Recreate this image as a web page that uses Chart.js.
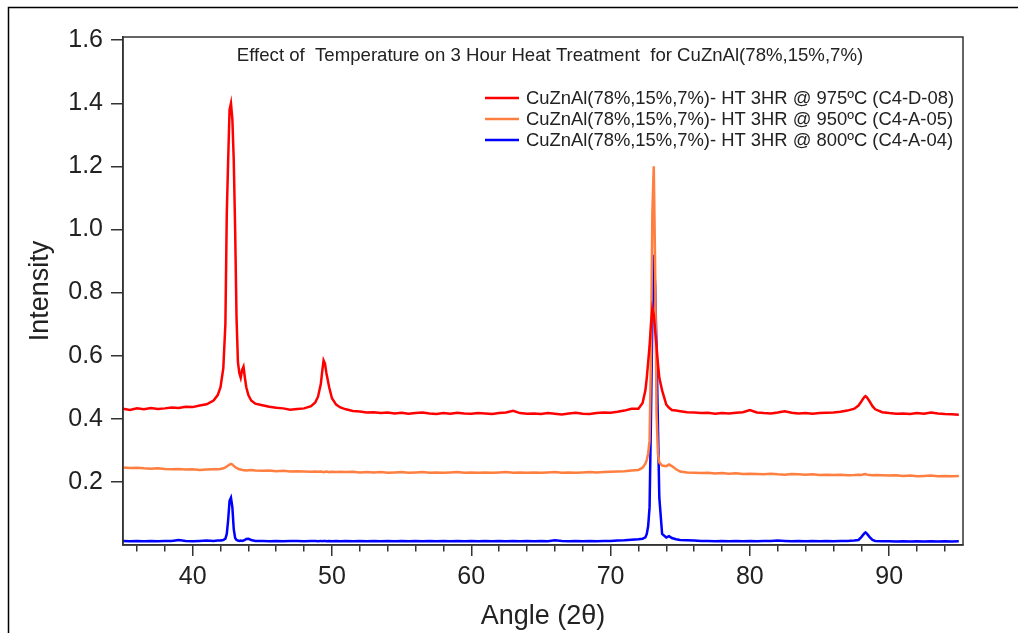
<!DOCTYPE html>
<html>
<head>
<meta charset="utf-8">
<title>Effect of Temperature on 3 Hour Heat Treatment</title>
<script src="https://cdn.jsdelivr.net/npm/chart.js@4/dist/chart.umd.min.js"></script>
<style>
  body { margin: 0; background: #fff; }
  #wrap { width: 1018px; height: 633px; }
</style>
</head>
<body>
<div id="wrap"><canvas id="xrd-chart" width="1018" height="633"></canvas></div>
<script>
// angle grid (2 theta), denser around the peaks
const angles = [
  35, 35.5, 36, 36.5, 37, 37.5, 38, 38.5, 39, 39.5, 40, 40.5, 41, 41.5,
  41.8, 42.0, 42.2, 42.35, 42.45, 42.55, 42.65, 42.75, 42.85, 42.95, 43.05, 43.15, 43.25, 43.35, 43.45, 43.55, 43.65, 43.75, 43.85, 44.0, 44.2, 44.5,
  45, 45.5, 46, 46.5, 47, 47.5, 48, 48.5,
  48.8, 49.0, 49.2, 49.3, 49.4, 49.5, 49.6, 49.8, 50.0, 50.3, 50.6,
  51, 51.5, 52, 52.5, 53, 53.5, 54, 54.5, 55, 55.5, 56, 56.5, 57, 57.5, 58, 58.5, 59, 59.5, 60, 60.5,
  61, 61.5, 62, 62.5, 63, 63.5, 64, 64.5, 65, 65.5, 66, 66.5, 67, 67.5, 68, 68.5, 69, 69.5, 70, 70.5, 71, 71.5,
  72.0, 72.3, 72.5, 72.6, 72.7, 72.8, 72.9, 73.0, 73.1, 73.2, 73.3, 73.4, 73.5, 73.7, 74.0, 74.2, 74.4, 74.7,
  75, 75.5, 76, 76.5, 77, 77.5, 78, 78.5, 79, 79.5, 80, 80.5, 81, 81.5, 82, 82.5, 83, 83.5, 84, 84.5, 85, 85.5, 86, 86.5, 87, 87.5,
  87.8, 88.0, 88.2, 88.3, 88.4, 88.6, 88.8, 89.0, 89.5,
  90, 90.5, 91, 91.5, 92, 92.5, 93, 93.5, 94, 94.5, 95
];

// HT 3HR @ 975C (C4-D-08)
const ht975 = [
  0.432, 0.428, 0.433, 0.430, 0.434, 0.431, 0.433, 0.436, 0.434, 0.438, 0.437, 0.442, 0.446, 0.458,
  0.475, 0.500, 0.560, 0.700, 1.050, 1.220, 1.380, 1.400, 1.350, 1.220, 1.000, 0.720, 0.580, 0.545, 0.530, 0.555, 0.565, 0.530, 0.500, 0.475, 0.458, 0.448,
  0.443, 0.438, 0.435, 0.433, 0.429, 0.431, 0.433, 0.440,
  0.452, 0.470, 0.510, 0.550, 0.585, 0.575, 0.545, 0.500, 0.465, 0.445, 0.436,
  0.430, 0.425, 0.423, 0.420, 0.421, 0.418, 0.420, 0.417, 0.419, 0.416, 0.418, 0.420, 0.417, 0.415, 0.418, 0.416, 0.419, 0.417, 0.416, 0.418,
  0.417, 0.415, 0.418, 0.420, 0.425, 0.418, 0.416, 0.417, 0.415, 0.418, 0.416, 0.414, 0.417, 0.419, 0.416, 0.415, 0.418, 0.420, 0.419, 0.422, 0.426, 0.432,
  0.432, 0.450, 0.490, 0.530, 0.580, 0.630, 0.700, 0.750, 0.730, 0.680, 0.630, 0.575, 0.530, 0.490, 0.445, 0.435, 0.428, 0.426,
  0.424, 0.421, 0.420, 0.418, 0.419, 0.416, 0.418, 0.417, 0.419, 0.421, 0.428, 0.420, 0.418, 0.417, 0.420, 0.424, 0.419, 0.417, 0.418, 0.416, 0.418, 0.419, 0.420, 0.422, 0.426, 0.432,
  0.442, 0.455, 0.468, 0.472, 0.468, 0.455, 0.440, 0.430, 0.421,
  0.418, 0.416, 0.417, 0.415, 0.418, 0.416, 0.420, 0.417, 0.415, 0.414, 0.413
];

// HT 3HR @ 950C (C4-A-05)
const ht950 = [
  0.246, 0.244, 0.245, 0.243, 0.242, 0.243, 0.241, 0.240, 0.241, 0.239, 0.240, 0.238, 0.239, 0.240,
  0.240, 0.241, 0.243, 0.246, 0.249, 0.252, 0.255, 0.257, 0.255, 0.251, 0.247, 0.244, 0.242, 0.240, 0.239, 0.238, 0.237, 0.237, 0.236, 0.237, 0.238, 0.236,
  0.235, 0.236, 0.234, 0.235, 0.233, 0.234, 0.233, 0.232,
  0.233, 0.232, 0.233, 0.232, 0.231, 0.232, 0.233, 0.231, 0.232, 0.231, 0.232,
  0.231, 0.232, 0.230, 0.231, 0.230, 0.231, 0.229, 0.230, 0.231, 0.229, 0.230, 0.231, 0.229, 0.230, 0.229, 0.230, 0.231, 0.229, 0.230, 0.229,
  0.230, 0.229, 0.230, 0.231, 0.229, 0.230, 0.229, 0.230, 0.229, 0.230, 0.231, 0.229, 0.230, 0.229, 0.230, 0.231, 0.230, 0.231, 0.232, 0.233, 0.234, 0.236,
  0.238, 0.245, 0.258, 0.270, 0.290, 0.330, 0.600, 1.050, 1.200, 0.880, 0.420, 0.290, 0.262, 0.252, 0.250, 0.255, 0.250, 0.240,
  0.233, 0.230, 0.229, 0.228, 0.229, 0.227, 0.228, 0.226, 0.227, 0.225, 0.226, 0.225, 0.224, 0.226, 0.224, 0.223, 0.225, 0.224, 0.223, 0.224, 0.222, 0.223, 0.222, 0.223, 0.221, 0.222,
  0.223, 0.222, 0.224, 0.225, 0.223, 0.222, 0.221, 0.222, 0.221,
  0.220, 0.221, 0.219, 0.220, 0.218, 0.219, 0.220, 0.218, 0.219, 0.218, 0.219
];

// HT 3HR @ 800C (C4-A-04)
const ht800 = [
  0.013, 0.012, 0.013, 0.012, 0.013, 0.012, 0.013, 0.013, 0.016, 0.013, 0.012, 0.013, 0.014, 0.013,
  0.014, 0.014, 0.016, 0.020, 0.035, 0.080, 0.140, 0.150, 0.120, 0.050, 0.022, 0.016, 0.014, 0.013, 0.014, 0.013, 0.014, 0.016, 0.019, 0.020, 0.016, 0.013,
  0.013, 0.012, 0.013, 0.012, 0.013, 0.013, 0.012, 0.013,
  0.013, 0.012, 0.013, 0.012, 0.013, 0.013, 0.012, 0.013, 0.012, 0.013, 0.012,
  0.013, 0.012, 0.013, 0.012, 0.013, 0.012, 0.013, 0.012, 0.013, 0.012, 0.013, 0.012, 0.013, 0.012, 0.013, 0.012, 0.013, 0.012, 0.013, 0.012,
  0.013, 0.012, 0.013, 0.012, 0.013, 0.012, 0.013, 0.012, 0.013, 0.012, 0.015, 0.013, 0.012, 0.013, 0.012, 0.013, 0.012, 0.013, 0.013, 0.014, 0.015, 0.017,
  0.018, 0.020, 0.024, 0.035, 0.060, 0.120, 0.400, 0.720, 0.920, 0.820, 0.620, 0.380, 0.150, 0.035, 0.024, 0.028, 0.022, 0.018,
  0.016, 0.015, 0.014, 0.013, 0.013, 0.012, 0.013, 0.012, 0.013, 0.012, 0.013, 0.012, 0.013, 0.013, 0.014, 0.013, 0.012, 0.013, 0.012, 0.013, 0.012, 0.013, 0.012, 0.013, 0.013, 0.014,
  0.016, 0.025, 0.036, 0.040, 0.036, 0.025, 0.016, 0.013, 0.012,
  0.012, 0.011, 0.012, 0.011, 0.012, 0.011, 0.012, 0.011, 0.012, 0.011, 0.012
];

const seriesLabels = [
  "CuZnAl(78%,15%,7%)- HT 3HR @ 975ºC (C4-D-08)",
  "CuZnAl(78%,15%,7%)- HT 3HR @ 950ºC (C4-A-05)",
  "CuZnAl(78%,15%,7%)- HT 3HR @ 800ºC (C4-A-04)"
];
const seriesColors = ["#ff0000", "#ff7f40", "#0000ff"];
const xTicks = [36, 38, 40, 42, 44, 46, 48, 50, 52, 54, 56, 58, 60, 62, 64, 66, 68, 70, 72, 74, 76, 78, 80, 82, 84, 86, 88, 90, 92, 94];
const yTicks = [0.2, 0.4, 0.6, 0.8, 1.0, 1.2, 1.4, 1.6];
const chartTitle = "Effect of  Temperature on 3 Hour Heat Treatment  for CuZnAl(78%,15%,7%)";

const FONT = "'Liberation Sans', Arial, sans-serif";
const INK = "#222";

const toPoints = (vals) => vals.map((v, i) => ({ x: angles[i], y: v }));

// outer frame, plot box, inner title and legend
const decorations = {
  id: "decorations",
  beforeDraw(chart) {
    const ctx = chart.ctx;
    ctx.save();
    ctx.strokeStyle = "#000";
    ctx.lineWidth = 1.5;
    ctx.beginPath();
    ctx.moveTo(8.5, 633);
    ctx.lineTo(8.5, 7.5);
    ctx.lineTo(1018, 7.5);
    ctx.stroke();
    ctx.restore();
  },
  afterDraw(chart) {
    const { ctx, chartArea: a } = chart;
    ctx.save();
    ctx.strokeStyle = "#333";
    ctx.lineWidth = 1.5;
    ctx.strokeRect(a.left, a.top, a.right - a.left, a.bottom - a.top);

    ctx.fillStyle = INK;
    ctx.font = "18.6px " + FONT;
    ctx.textAlign = "center";
    ctx.textBaseline = "middle";
    ctx.fillText(chartTitle, 550, 56);

    ctx.font = "18.4px " + FONT;
    ctx.textAlign = "left";
    chart.data.datasets.forEach((ds, i) => {
      const y = 98 + i * 21;
      ctx.strokeStyle = ds.borderColor;
      ctx.lineWidth = 2.5;
      ctx.beginPath();
      ctx.moveTo(485, y);
      ctx.lineTo(519, y);
      ctx.stroke();
      ctx.fillStyle = INK;
      ctx.fillText(ds.label, 526, y + 1);
    });
    ctx.restore();
  }
};

const ctx = document.getElementById("xrd-chart");
new Chart(ctx, {
  type: "line",
  data: {
    datasets: [ht975, ht950, ht800].map((vals, i) => ({
      label: seriesLabels[i],
      data: toPoints(vals),
      borderColor: seriesColors[i],
      backgroundColor: seriesColors[i],
      borderWidth: 2.5,
      pointRadius: 0,
      tension: 0,
      fill: false
    }))
  },
  options: {
    responsive: false,
    animation: false,
    layout: { padding: { left: 24, top: 37, right: 55, bottom: 0 } },
    plugins: {
      legend: { display: false },
      title: { display: false },
      tooltip: { enabled: false }
    },
    scales: {
      x: {
        type: "linear",
        min: 35,
        max: 95.3,
        afterBuildTicks: (scale) => { scale.ticks = xTicks.map(v => ({ value: v })); },
        afterFit: (scale) => { scale.height = 88; },
        grid: {
          drawOnChartArea: false,
          tickLength: 11,
          color: "#333",
          lineWidth: 1.5,
          // minor ticks are shorter than the labelled ones
          tickBorderDash: (c) => (c.tick && c.tick.value % 10 === 0 ? [] : [6, 40])
        },
        border: { color: "#333", width: 1.5 },
        ticks: {
          autoSkip: false,
          maxRotation: 0,
          padding: 6,
          color: INK,
          font: { family: FONT, size: 25 },
          callback: (v) => (v % 10 === 0 ? v : "")
        },
        title: {
          display: true,
          text: "Angle (2θ)",
          color: INK,
          font: { family: FONT, size: 27 },
          padding: { top: 0, bottom: 0 }
        }
      },
      y: {
        min: 0,
        max: 1.61,
        afterBuildTicks: (scale) => { scale.ticks = yTicks.map(v => ({ value: v })); },
        afterFit: (scale) => { scale.width = 99; },
        grid: { drawOnChartArea: false, tickLength: 12, color: "#333", lineWidth: 1.5 },
        border: { color: "#333", width: 1.5 },
        ticks: {
          padding: 8,
          color: INK,
          font: { family: FONT, size: 25 },
          callback: (v) => v.toFixed(1)
        },
        title: {
          display: true,
          text: "Intensity",
          color: INK,
          font: { family: FONT, size: 27 },
          padding: { top: 0, bottom: 0 }
        }
      }
    }
  },
  plugins: [decorations]
});
</script>
</body>
</html>
